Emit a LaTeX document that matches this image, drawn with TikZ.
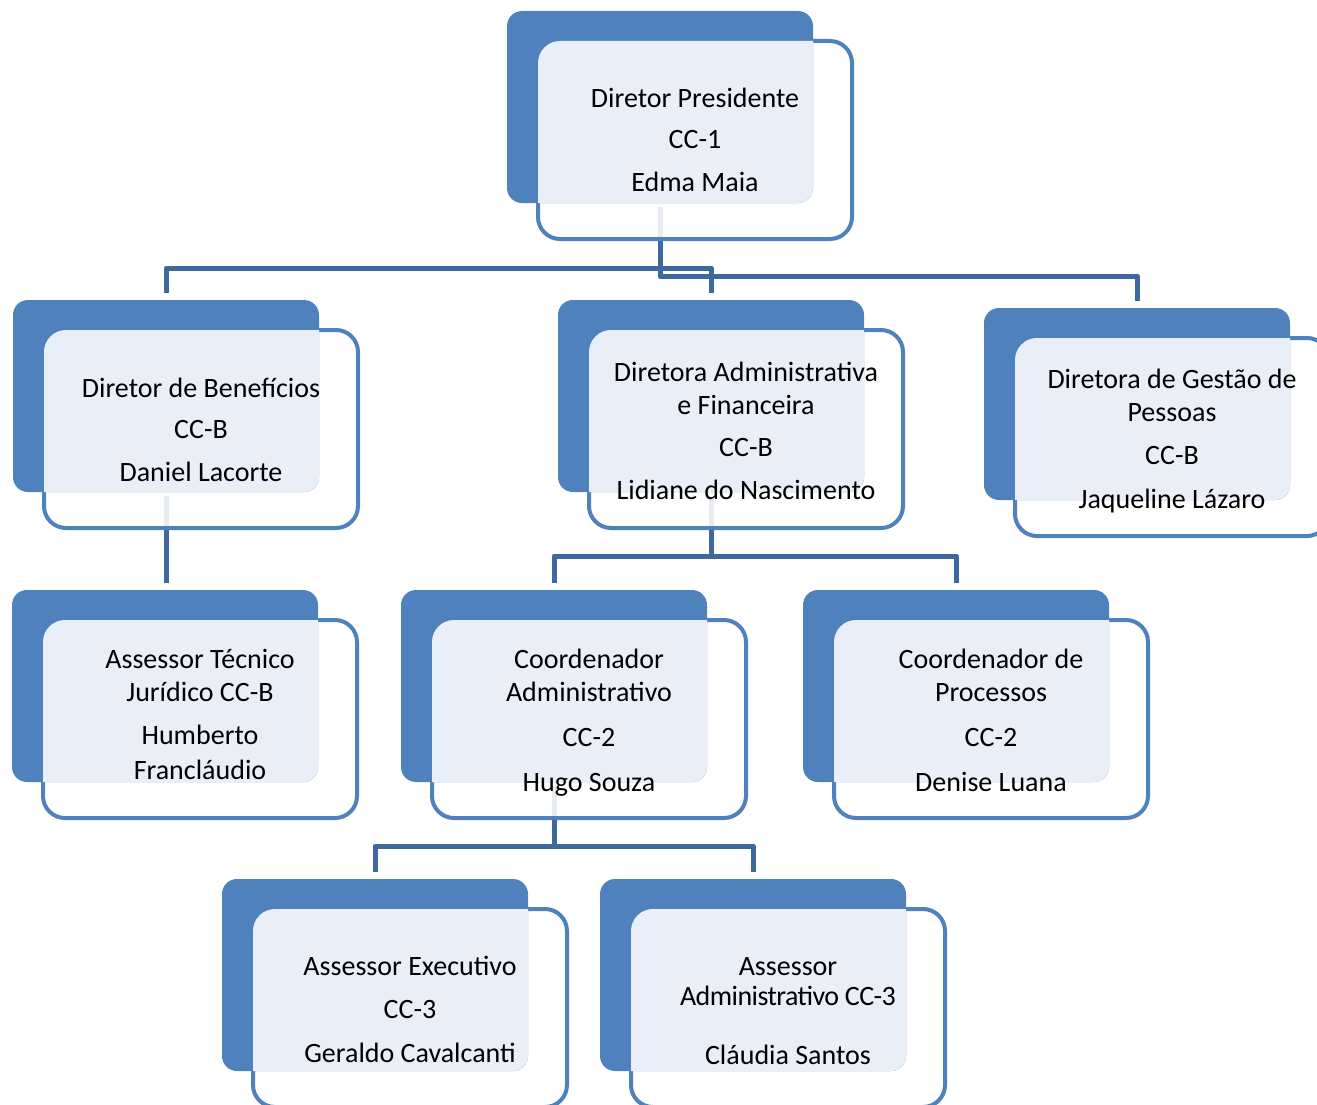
\documentclass[tikz,border=0pt]{standalone}
\usepackage{fontspec}
\setmainfont{Carlito}
\usetikzlibrary{calc}
\pgfdeclarelayer{bg}
\pgfsetlayers{bg,main}
\definecolor{boxblue}{RGB}{79,129,189}
\definecolor{linkblue}{RGB}{63,104,156}
\definecolor{lightfill}{RGB}{234,239,247}
\tikzset{
  backbox/.style={fill=boxblue, rounded corners=15pt},
  frontbox/.style={draw=boxblue, line width=4pt, fill=white, fill opacity=0.88, rounded corners=22pt},
  overlap/.style={fill=lightfill},
  link/.style={draw=linkblue, line width=5pt, line join=round},
  lbl/.style={align=center, font=\fontsize{28}{33}\selectfont, inner sep=0pt},
}
\newcommand\orgunit[5]{%
  \path[frontbox] (#2+31,#3+30) rectangle +(314,198);
  \fill[backbox] (#2,#3) rectangle +(306,192);
  \begin{scope}
    \clip[rounded corners=22pt] (#2+31,#3+30) rectangle +(314,198);
    \fill[overlap,rounded corners=15pt] (#2,#3) rectangle +(306,192);
  \end{scope}
  \node[lbl,anchor=base] (#1) at (#2+188,#3+#4) {\begin{tabular}[t]{@{}c@{}}#5\end{tabular}};
  \coordinate (#1-in) at (#2+153,#3-7);
  \coordinate (#1-out) at (#2+153,#3+196);
}
\begin{document}
\begin{tikzpicture}[x=1pt,y=-1pt]
\useasboundingbox (0,0) rectangle (1317,1105);
\orgunit{pres}{507}{11}{97}{Diretor Presidente\\[8pt] CC-1\\[10pt] Edma Maia}
\orgunit{benef}{13}{300}{97}{Diretor de Benefícios\\[8pt] CC-B\\[10pt] Daniel Lacorte}
\orgunit{admfin}{558}{300}{81}{Diretora Administrativa\\ e Financeira\\[9pt] CC-B\\[10pt] Lidiane do Nascimento}
\orgunit{gestao}{984}{308}{80}{Diretora de Gestão de\\ Pessoas\\[10pt] CC-B\\[11pt] Jaqueline Lázaro}
\orgunit{jurid}{12}{590}{78}{Assessor Técnico\\ Jurídico CC-B\\[10pt] Humberto\\[2pt] Francláudio}
\orgunit{coordadm}{401}{590}{78}{Coordenador\\ Administrativo\\[12pt] CC-2\\[12pt] Hugo Souza}
\orgunit{coordproc}{803}{590}{78}{Coordenador de\\ Processos\\[12pt] CC-2\\[12pt] Denise Luana}
\orgunit{assexec}{222}{879}{96}{Assessor Executivo\\[10pt] CC-3\\[11pt] Geraldo Cavalcanti}
\orgunit{assadm}{600}{879}{96}{Assessor\\[-3pt] \addfontfeatures{LetterSpace=-2}Administrativo CC-3\\[26pt] Cláudia Santos}
\coordinate (busA) at (0,268);
\coordinate (busB) at (0,276);
\coordinate (busC) at (0,556);
\coordinate (busD) at (0,846);
\begin{pgfonlayer}{bg}
\draw[link] (benef-in) |- (busA -| admfin-in) -- (admfin-in);
\draw[link] (pres-out) |- (busB -| gestao-in) -- (gestao-in);
\draw[link] (benef-out) -- (benef-out |- jurid-in);
\draw[link] (coordadm-in) |- (busC -| coordproc-in) -- (coordproc-in);
\draw[link] (admfin-out) -- (admfin-out |- busC);
\draw[link] (assexec-in) |- (busD -| assadm-in) -- (assadm-in);
\draw[link] (coordadm-out) -- (coordadm-out |- busD);
\end{pgfonlayer}
\end{tikzpicture}
\end{document}
